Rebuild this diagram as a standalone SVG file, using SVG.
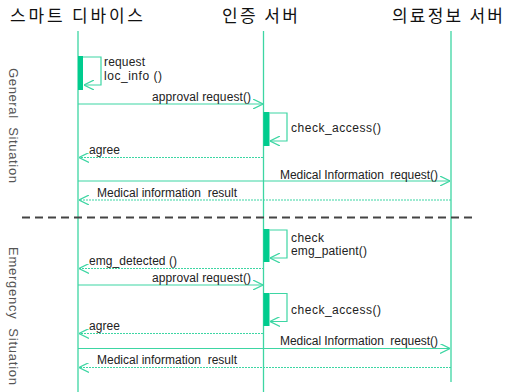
<svg xmlns="http://www.w3.org/2000/svg" width="506" height="392" viewBox="0 0 506 392">
<defs>
<style>
.title{font-family:"Noto Sans CJK KR","Liberation Sans",sans-serif;font-size:17px;fill:#111;}
.lbl{font-family:"Liberation Sans","Noto Sans CJK KR",sans-serif;font-size:12px;fill:#222;white-space:pre;}
.side{font-family:"Liberation Sans",sans-serif;font-size:13px;fill:#555;white-space:pre;}
.life{stroke:#3dd6a3;stroke-width:1.3;fill:none;}
.bar{fill:#00cc8e;}
.msg{stroke:#3dd6a3;stroke-width:1.2;fill:none;}
.ret{stroke:#3dd6a3;stroke-width:1.2;fill:none;stroke-dasharray:2,1;}
.loop{stroke:#3dd6a3;stroke-width:1.2;fill:none;}
.sep{stroke:#444;stroke-width:2;stroke-dasharray:8,5;}
</style>
<marker id="oa" viewBox="0 0 10 10" refX="10" refY="5" markerWidth="10" markerHeight="10" markerUnits="userSpaceOnUse" orient="auto">
<path d="M0,0 L10,5 L0,10" fill="none" stroke="#3dd6a3" stroke-width="1.2"/>
</marker>
</defs>
<rect width="506" height="392" fill="#fff"/>
<g id="node-smart">
<text class="title" x="10" y="22" textLength="133">스마트 디바이스</text>
<line class="life" x1="78" y1="31" x2="78" y2="392"/>
<rect class="bar" x="78" y="56" width="5" height="34"/>
</g>
<g id="node-auth">
<text class="title" x="222" y="22" textLength="76">인증 서버</text>
<line class="life" x1="263.5" y1="31" x2="263.5" y2="392"/>
<rect class="bar" x="263.5" y="112" width="6" height="34"/>
<rect class="bar" x="263.5" y="229" width="6" height="33"/>
<rect class="bar" x="263.5" y="293" width="6" height="33"/>
</g>
<g id="node-medical">
<text class="title" x="392" y="22" textLength="111">의료정보 서버</text>
<line class="life" x1="451" y1="31" x2="451" y2="382"/>
</g>
<g id="side-labels">
<text class="side" xml:space="preserve" transform="translate(9,68) rotate(90)" textLength="115">General  Situation</text>
<text class="side" xml:space="preserve" transform="translate(9,247) rotate(90)" textLength="138">Emergency  Situation</text>
</g>
<line class="sep" x1="22" y1="217.5" x2="476" y2="217.5"/>
<g id="connectors">
<path class="loop" d="M83,57 H101 V85 H84" marker-end="url(#oa)"/>
<text class="lbl" x="104" y="66" textLength="41">request</text>
<text class="lbl" x="104" y="80" textLength="58">loc_info ()</text>

<line class="msg" x1="78" y1="104" x2="263" y2="104" marker-end="url(#oa)"/>
<text class="lbl" x="152" y="101" textLength="99">approval request()</text>

<path class="loop" d="M269.5,113 H287 V141 H270" marker-end="url(#oa)"/>
<text class="lbl" x="291" y="132" textLength="90">check_access()</text>

<line class="ret" x1="263" y1="157.5" x2="79" y2="157.5" marker-end="url(#oa)"/>
<text class="lbl" x="89" y="154" textLength="31">agree</text>

<line class="msg" x1="78" y1="181" x2="450" y2="181" marker-end="url(#oa)"/>
<text class="lbl" xml:space="preserve" x="280" y="179" textLength="158">Medical Information  request()</text>

<line class="ret" x1="451" y1="200" x2="79" y2="200" marker-end="url(#oa)"/>
<text class="lbl" xml:space="preserve" x="97" y="197" textLength="140">Medical information  result</text>

<path class="loop" d="M269.5,230 H287 V258 H270" marker-end="url(#oa)"/>
<text class="lbl" x="291" y="242" textLength="33">check</text>
<text class="lbl" x="291" y="255" textLength="76">emg_patient()</text>

<line class="ret" x1="264" y1="268.5" x2="79" y2="268.5" marker-end="url(#oa)"/>
<text class="lbl" x="89" y="265" textLength="88">emg_detected ()</text>

<line class="msg" x1="78" y1="285" x2="263" y2="285" marker-end="url(#oa)"/>
<text class="lbl" x="152" y="282" textLength="99">approval request()</text>

<path class="loop" d="M269.5,293.5 H287 V321.5 H270" marker-end="url(#oa)"/>
<text class="lbl" x="291" y="314" textLength="90">check_access()</text>

<line class="ret" x1="263" y1="333.5" x2="79" y2="333.5" marker-end="url(#oa)"/>
<text class="lbl" x="89" y="330" textLength="31">agree</text>

<line class="msg" x1="78" y1="348.5" x2="450" y2="348.5" marker-end="url(#oa)"/>
<text class="lbl" xml:space="preserve" x="280" y="345" textLength="158">Medical Information  request()</text>

<line class="ret" x1="451" y1="367.5" x2="79" y2="367.5" marker-end="url(#oa)"/>
<text class="lbl" xml:space="preserve" x="97" y="364" textLength="140">Medical information  result</text>
</g>
</svg>
